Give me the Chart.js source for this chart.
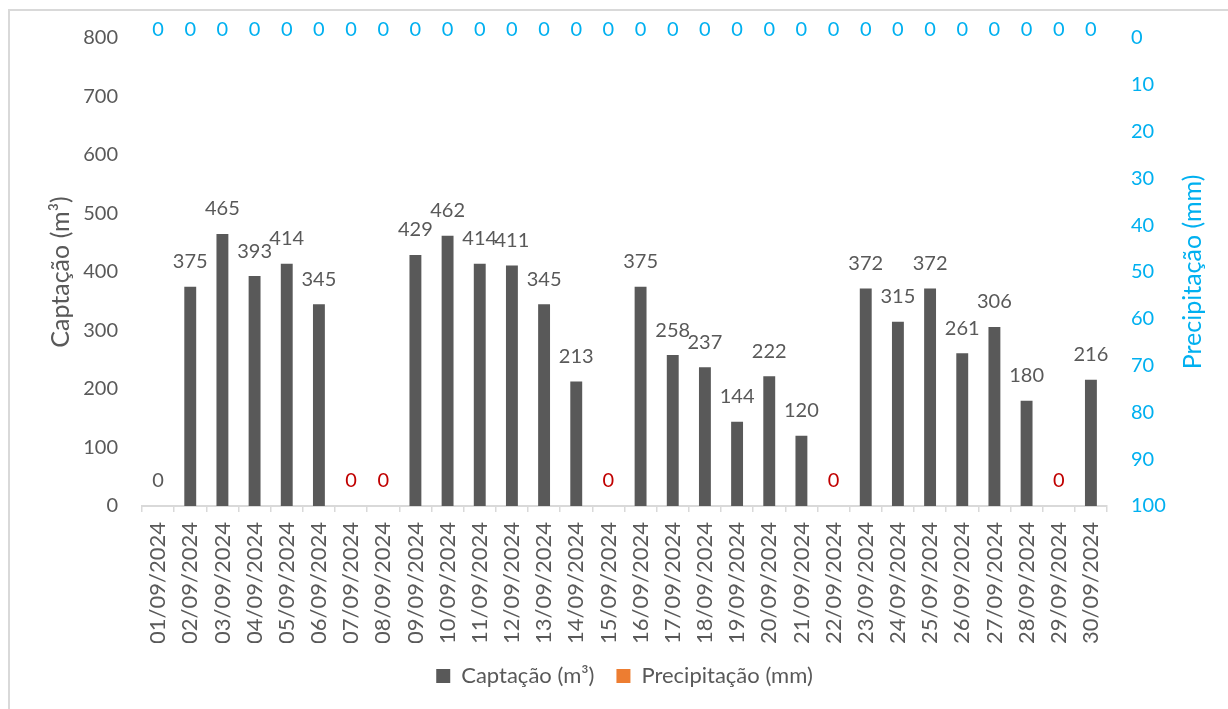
<!DOCTYPE html>
<html lang="pt">
<head>
<meta charset="utf-8">
<title>Captação x Precipitação - Setembro 2024</title>
<script src="https://cdn.jsdelivr.net/npm/chart.js@4.4.1/dist/chart.umd.min.js"></script>
<style>
  html, body { margin: 0; padding: 0; background: #ffffff; }
  #wrap { width: 1228px; height: 709px; position: relative; }
</style>
</head>
<body>
<div id="wrap"><canvas id="grafico"></canvas></div>
<script>
// dias do mês
const dias = [
  '01/09/2024', '02/09/2024', '03/09/2024', '04/09/2024', '05/09/2024',
  '06/09/2024', '07/09/2024', '08/09/2024', '09/09/2024', '10/09/2024',
  '11/09/2024', '12/09/2024', '13/09/2024', '14/09/2024', '15/09/2024',
  '16/09/2024', '17/09/2024', '18/09/2024', '19/09/2024', '20/09/2024',
  '21/09/2024', '22/09/2024', '23/09/2024', '24/09/2024', '25/09/2024',
  '26/09/2024', '27/09/2024', '28/09/2024', '29/09/2024', '30/09/2024'
];

// volume captado por dia (m³)
const captacao = [
  0, 375, 465, 393, 414, 345, 0, 0, 429, 462,
  414, 411, 345, 213, 0, 375, 258, 237, 144, 222,
  120, 0, 372, 315, 372, 261, 306, 180, 0, 216
];

// chuva diária (mm)
const precipitacao = [
  0, 0, 0, 0, 0, 0, 0, 0, 0, 0,
  0, 0, 0, 0, 0, 0, 0, 0, 0, 0,
  0, 0, 0, 0, 0, 0, 0, 0, 0, 0
];

const captacaoTicks = [0, 100, 200, 300, 400, 500, 600, 700, 800];
const precipTicks = [0, 10, 20, 30, 40, 50, 60, 70, 80, 90, 100];

const CINZA = '#595959';
const VERMELHO = '#C00000';
const AZUL = '#00B0F0';
const LARANJA = '#ED7D31';
const FONTE = 'Lato, "Open Sans", sans-serif';

// moldura da área do gráfico
const moldura = {
  id: 'moldura',
  beforeDraw(chart) {
    const ctx = chart.ctx;
    ctx.save();
    ctx.fillStyle = '#ffffff';
    ctx.fillRect(0, 0, chart.width, chart.height);
    ctx.strokeStyle = '#d9d9d9';
    ctx.lineWidth = 2;
    ctx.strokeRect(9, 10, chart.width + 20, chart.height + 20);
    ctx.restore();
  }
};

// título do eixo secundário, lido de baixo para cima
const tituloDireito = {
  id: 'tituloDireito',
  afterDraw(chart) {
    const ctx = chart.ctx;
    const area = chart.chartArea;
    ctx.save();
    ctx.translate(1193, (area.top + area.bottom) / 2);
    ctx.rotate(-Math.PI / 2);
    ctx.font = '25px ' + FONTE;
    ctx.fillStyle = AZUL;
    ctx.textAlign = 'center';
    ctx.textBaseline = 'middle';
    ctx.fillText('Precipitação (mm)', 0, 0);
    ctx.restore();
  }
};

// rótulos de valor acima das barras
const rotulos = {
  id: 'rotulos',
  afterDatasetsDraw(chart) {
    const ctx = chart.ctx;
    ctx.save();
    ctx.font = '20px ' + FONTE;
    ctx.textAlign = 'center';
    ctx.textBaseline = 'middle';

    const metaCap = chart.getDatasetMeta(0);
    metaCap.data.forEach((bar, i) => {
      const v = captacao[i];
      // dias sem captação ficam em vermelho (exceto o primeiro dia)
      ctx.fillStyle = (v === 0 && i > 0) ? VERMELHO : CINZA;
      ctx.fillText(String(v), bar.x, bar.y - 25);
    });

    const metaPrec = chart.getDatasetMeta(1);
    ctx.fillStyle = AZUL;
    metaPrec.data.forEach((bar, i) => {
      ctx.fillText(String(precipitacao[i]), bar.x, bar.y - 8);
    });
    ctx.restore();
  }
};

new Chart(document.getElementById('grafico'), {
  type: 'bar',
  data: {
    labels: dias,
    datasets: [
      {
        label: 'Captação (m³)',
        data: captacao,
        backgroundColor: CINZA,
        borderWidth: 0,
        yAxisID: 'y',
        grouped: false,
        barPercentage: 0.37,
        categoryPercentage: 1
      },
      {
        label: 'Precipitação (mm)',
        data: precipitacao,
        backgroundColor: LARANJA,
        borderWidth: 0,
        yAxisID: 'y1',
        grouped: false,
        barPercentage: 0.37,
        categoryPercentage: 1
      }
    ]
  },
  options: {
    responsive: true,
    maintainAspectRatio: false,
    animation: false,
    layout: { padding: { top: 38, left: 0, right: 0, bottom: 12 } },
    plugins: {
      tooltip: { enabled: false },
      legend: {
        position: 'bottom',
        fullSize: false,
        labels: {
          color: CINZA,
          font: { family: FONTE, size: 22 },
          boxWidth: 14,
          boxHeight: 14,
          padding: 22
        }
      }
    },
    scales: {
      x: {
        offset: true,
        grid: {
          offset: true,
          drawOnChartArea: false,
          color: '#d9d9d9',
          lineWidth: 1.5,
          tickLength: 6
        },
        border: { color: '#d9d9d9', width: 2 },
        ticks: {
          color: CINZA,
          font: { family: FONTE, size: 22 },
          minRotation: 90,
          maxRotation: 90,
          autoSkip: false,
          padding: 10
        },
        afterFit(scale) { scale.height = 137; }
      },
      y: {
        position: 'left',
        min: 0,
        max: 800,
        afterBuildTicks(scale) { scale.ticks = captacaoTicks.map(v => ({ value: v })); },
        grid: { display: false, drawTicks: false },
        border: { display: false },
        ticks: {
          color: CINZA,
          font: { family: FONTE, size: 20 },
          padding: 24
        },
        title: {
          display: true,
          text: 'Captação (m³)',
          color: CINZA,
          font: { family: FONTE, size: 25 },
          padding: { top: 46, bottom: 0 }
        },
        afterFit(scale) { scale.width = 142; }
      },
      y1: {
        position: 'right',
        reverse: true,
        min: 0,
        max: 100,
        afterBuildTicks(scale) { scale.ticks = precipTicks.map(v => ({ value: v })); },
        grid: { display: false, drawTicks: false },
        border: { display: false },
        ticks: {
          color: AZUL,
          font: { family: FONTE, size: 20 },
          padding: 24
        },
        afterFit(scale) { scale.width = 121; }
      }
    }
  },
  plugins: [moldura, rotulos, tituloDireito]
});
</script>
</body>
</html>
